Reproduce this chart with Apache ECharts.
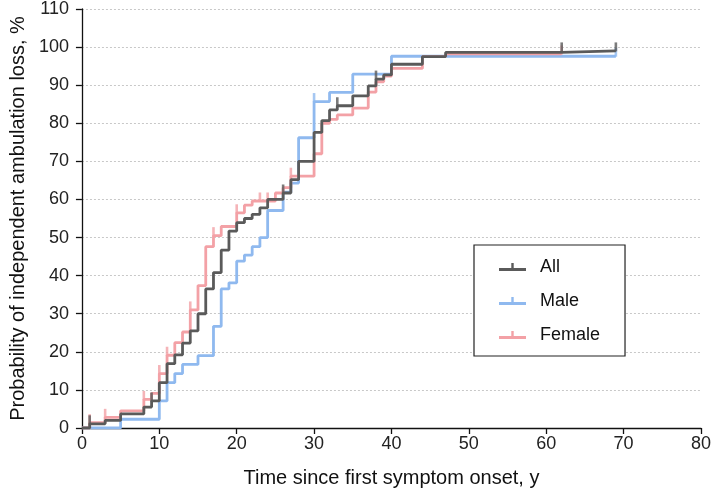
<!DOCTYPE html>
<html>
<head>
<meta charset="utf-8">
<script src="https://cdn.jsdelivr.net/npm/echarts@6/dist/echarts.min.js"></script>
<style>html,body{margin:0;padding:0;background:#fff;}#c{width:714px;height:496px;}</style>
</head>
<body>
<div id="c"></div>
<script>
// ---- Data ----
const allTimes = [0,1,3,5,8,9,10,11,12,13,14,15,16,17,18,19,20,21,22,23,24,26,27,28,30,31,32,33,35,37,38,39,40,44,47,62,69];
const allValues = [0,1.1,2.0,3.7,5.5,7.1,11.9,16.9,19.2,22.3,25.5,30.0,36.5,40.8,46.7,51.7,53.9,55.0,56.1,57.8,60.0,61.7,65.2,70.0,77.6,80.7,83.5,84.6,87.2,89.8,91.6,92.7,95.5,97.5,98.6,99.0,99.0];

const maleTimes = [0,5,10,11,12,13,15,17,18,19,20,21,22,23,24,26,27,28,30,32,35,40,69];
const maleValues = [0,2.3,7.1,11.9,14.3,16.7,19.0,26.7,36.5,38.1,43.8,45.4,47.6,50.0,57.1,61.9,64.3,76.2,85.7,88.1,92.9,97.6,97.6];

const femaleTimes = [0,1,3,5,8,9,10,11,12,13,14,15,16,17,18,20,21,22,25,26,27,30,31,32,33,35,37,38,39,40,44,47,62];
const femaleValues = [0,1.4,2.8,4.5,7.5,9.1,14.3,19.1,22.4,25.2,31.0,37.4,47.6,50.5,52.9,56.5,58.5,59.6,61.7,63.1,66.1,72.0,80.0,81.0,82.2,84.0,88.2,90.9,92.4,94.4,97.5,98.2,98.2];

// censored observation times (tick marks)
const allCensor = [1, 9, 26, 33, 38, 62, 69];
const maleCensor = [30, 69];
const femaleCensor = [1, 3, 8, 10, 11, 14, 17, 20, 23, 24, 27, 62];

const seriesNames = ['All', 'Male', 'Female'];
const xTicks = [0, 10, 20, 30, 40, 50, 60, 70, 80];
const yTicks = [0, 10, 20, 30, 40, 50, 60, 70, 80, 90, 100, 110];

// ---- Build ----
const FONT = 'Liberation Sans, Arial, sans-serif';
const colors = { All: '#5a5a5a', Male: '#8fb9ef', Female: '#f3a1a6' };
function pairs(t, v) { return t.map((x, i) => [x, v[i]]); }
function lookup(t, v, x) { let y = v[0]; for (let i = 0; i < t.length; i++) { if (t[i] <= x) y = v[i]; } return y; }
function censorPts(c, t, v) { return c.map(x => [x, lookup(t, v, x)]); }

const groups = [
  { name: 'Male', t: maleTimes, v: maleValues, c: maleCensor, z: 2 },
  { name: 'Female', t: femaleTimes, v: femaleValues, c: femaleCensor, z: 3 },
  { name: 'All', t: allTimes, v: allValues, c: allCensor, z: 4 }
];

const legendIcon = 'path://M0,6 L27,6 L27,9 L0,9 Z M12.3,1 L14.7,1 L14.7,7 L12.3,7 Z';

const series = [];
groups.forEach(g => {
  series.push({
    name: g.name, type: 'line', step: 'end', data: pairs(g.t, g.v),
    showSymbol: false, symbol: 'none', z: g.z,
    lineStyle: { color: colors[g.name], width: 2.8 }, itemStyle: { color: colors[g.name] },
    animation: false
  });
  series.push({
    name: g.name, type: 'scatter', data: censorPts(g.c, g.t, g.v), z: g.z,
    symbol: 'rect', symbolSize: [2.6, 9], symbolOffset: [0, -4],
    itemStyle: { color: colors[g.name] }, animation: false, silent: true
  });
});

const chart = echarts.init(document.getElementById('c'), null, { renderer: 'canvas' });
chart.setOption({
  backgroundColor: '#fff',
  animation: false,
  textStyle: { fontFamily: FONT },
  grid: { left: 72, right: 9, top: 7, bottom: 68, containLabel: false },
  legend: {
    data: ['All', 'Male', 'Female'],
    orient: 'vertical', left: 474, top: 245,
    icon: legendIcon, itemWidth: 27, itemHeight: 10, itemGap: 16,
    padding: [13, 25, 12, 25],
    borderColor: '#222', borderWidth: 1.2, backgroundColor: '#fff',
    textStyle: { fontSize: 18, color: '#111', padding: [0, 0, 0, 9], fontFamily: FONT },
    selectedMode: false
  },
  xAxis: {
    type: 'value', min: 0, max: 80, interval: 10,
    name: 'Time since first symptom onset, y', nameLocation: 'middle', nameGap: 40,
    nameTextStyle: { fontSize: 20, color: '#111', fontFamily: FONT },
    axisLine: { lineStyle: { color: '#111', width: 1.3 } },
    axisTick: { show: true, length: 6, lineStyle: { color: '#111', width: 1.3 } },
    axisLabel: { fontSize: 18, color: '#222', margin: 7, fontFamily: FONT },
    splitLine: { show: false }
  },
  yAxis: {
    type: 'value', min: 0, max: 110, interval: 10,
    name: 'Probability of independent ambulation loss, %', nameLocation: 'middle', nameGap: 52,
    nameRotate: 90,
    nameTextStyle: { fontSize: 20, color: '#111', fontFamily: FONT },
    axisLine: { show: true, lineStyle: { color: '#111', width: 1.3 } },
    axisTick: { show: true, length: 6, lineStyle: { color: '#111', width: 1.3 } },
    axisLabel: { fontSize: 18, color: '#222', margin: 13, fontFamily: FONT },
    splitLine: { show: true, lineStyle: { color: '#c8c8c8', type: [2, 2], width: 1 } }
  },
  series: series
});
</script>
</body>
</html>
